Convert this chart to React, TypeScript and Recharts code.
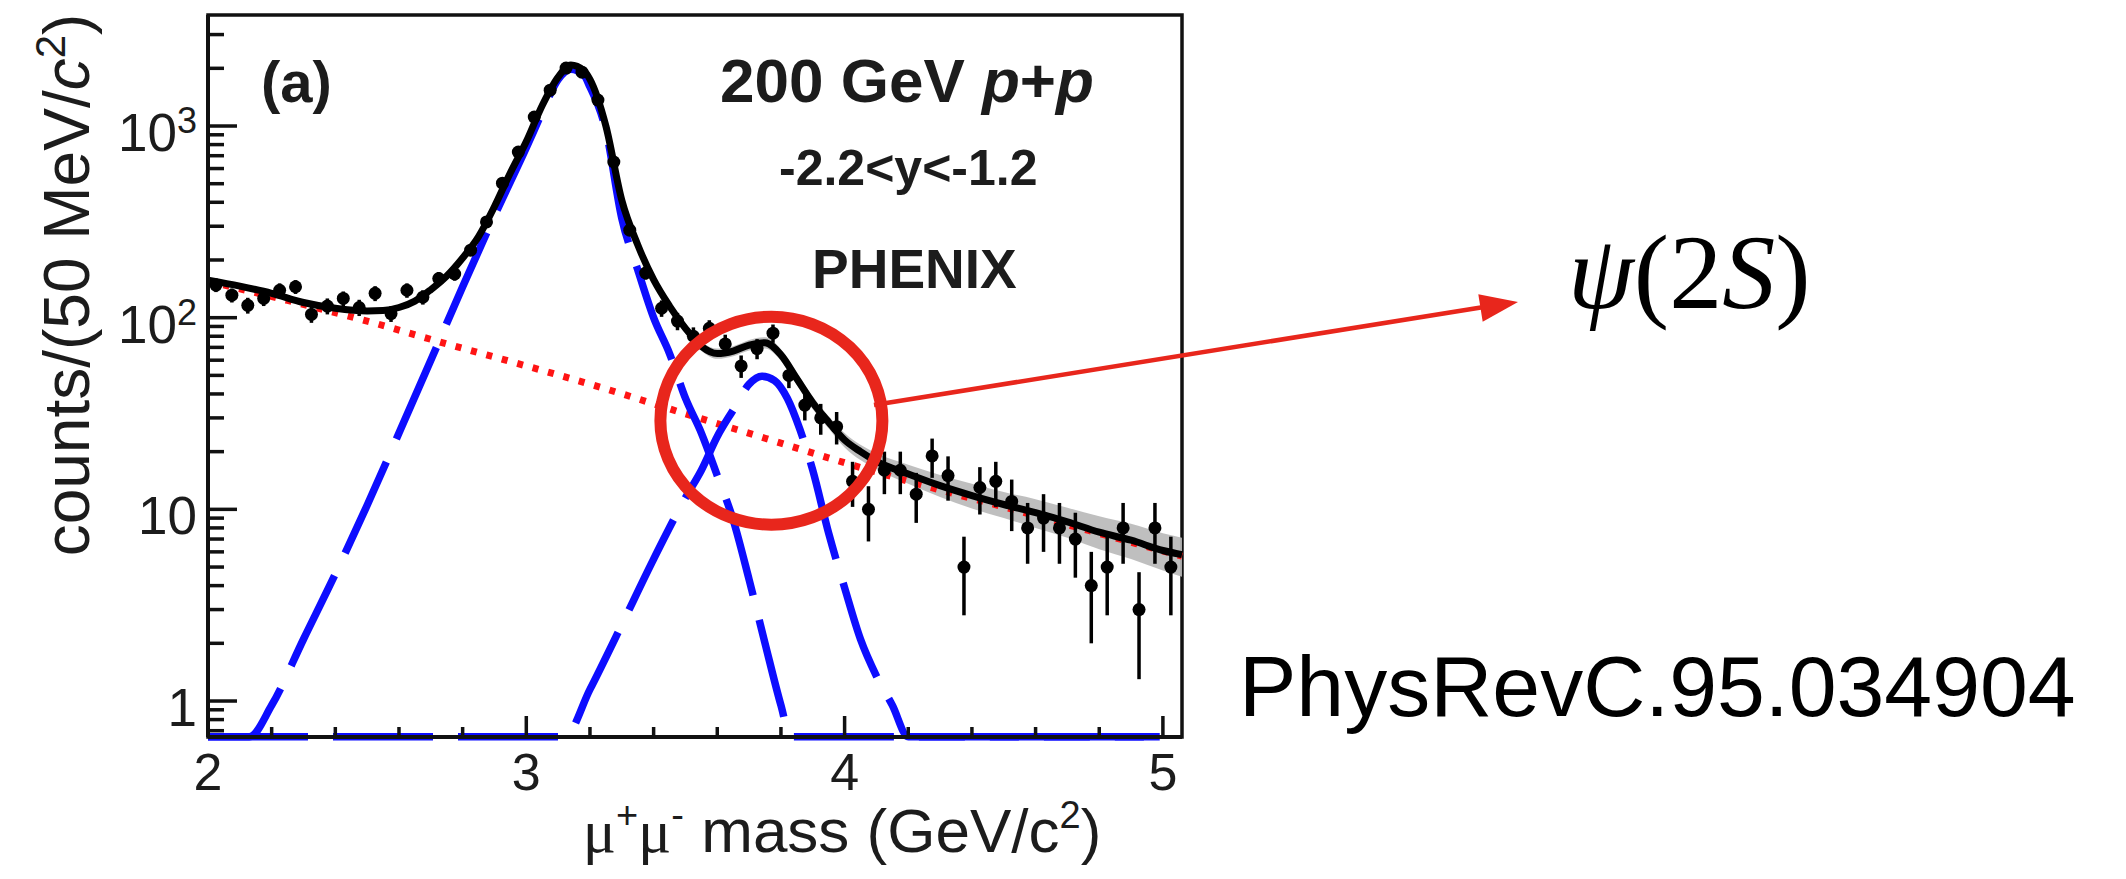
import React from 'react';
import { ComposedChart, Line, Area, Scatter, ErrorBar, XAxis, YAxis, ReferenceDot, ReferenceArea } from 'recharts';

const W = 2126;
const H = 879;
const SANS = '"Liberation Sans", Arial, Helvetica, sans-serif';
const SERIF = '"Liberation Serif", "Times New Roman", serif';
const INK = '#1c1c1c';

// measured dimuon mass bins (GeV/c^2), counts per 50 MeV and their errors
const binMass = [
  2.025, 2.075, 2.125, 2.175, 2.225, 2.275, 2.325, 2.375, 2.425, 2.475,
  2.525, 2.575, 2.625, 2.675, 2.725, 2.775, 2.825, 2.875, 2.925, 2.975,
  3.025, 3.075, 3.125, 3.175, 3.225, 3.275, 3.325, 3.375, 3.425, 3.475,
  3.525, 3.575, 3.625, 3.675, 3.725, 3.775, 3.825, 3.875, 3.925, 3.975,
  4.025, 4.075, 4.125, 4.175, 4.225, 4.275, 4.325, 4.375, 4.425, 4.475,
  4.525, 4.575, 4.625, 4.675, 4.725, 4.775, 4.825, 4.875, 4.925, 4.975, 5.025,
];
const binCounts = [
  148, 131, 116, 126, 139, 145, 104, 115, 126, 113,
  134, 105, 139, 128, 160, 169, 225, 316, 503, 731,
  1113, 1539, 2005, 1910, 1365, 649, 286, 171, 112, 96,
  80, 88, 73, 56, 69, 83, 50, 35, 30, 27,
  14, 10, 16, 16, 12, 19, 15, 5, 13, 14,
  11, 8, 9, 8, 7, 4, 5, 8, 3, 8, 5,
];
const binErrors = [
  12, 11, 11, 11, 12, 12, 10, 11, 11, 11,
  12, 10, 12, 11, 13, 13, 15, 18, 22, 27,
  33, 39, 45, 44, 37, 25, 17, 13, 11, 10,
  9, 9, 8.5, 7.5, 8.3, 9.1, 7.1, 5.9, 5.5, 5.2,
  3.7, 3.2, 4, 4, 3.5, 4.4, 3.9, 2.2, 3.6, 3.7,
  3.3, 2.8, 3, 2.8, 2.6, 2, 2.2, 2.8, 1.7, 2.8, 2.2,
];

// total fit (black)
const fitMass = [
  2.0, 2.1, 2.2, 2.3, 2.4, 2.5, 2.55, 2.6, 2.65, 2.7, 2.75, 2.8, 2.85, 2.9, 2.95,
  3.0, 3.05, 3.1, 3.14, 3.18, 3.2, 3.25, 3.3, 3.35, 3.4, 3.45, 3.5, 3.55, 3.6, 3.65,
  3.7, 3.75, 3.8, 3.85, 3.9, 3.95, 4.0, 4.05, 4.1, 4.2, 4.3, 4.4, 4.5, 4.6, 4.7,
  4.8, 4.9, 5.0, 5.06,
];
const fitTotal = [
  157, 146, 134, 120, 112, 108.5, 109, 113, 122, 140, 165, 205, 265, 380, 570,
  830, 1280, 1800, 2080, 1950, 1750, 1000, 410, 240, 158, 115, 88, 71, 65, 67,
  72, 74, 64, 48, 36, 28.5, 23, 20, 17.8, 15.3, 13.3, 11.8, 10.6, 9.6, 8.6,
  7.6, 6.9, 6.1, 5.8,
];

// fit uncertainty band (grey)
const bandMass = [
  3.4, 3.45, 3.5, 3.55, 3.6, 3.65, 3.7, 3.75, 3.8, 3.85, 3.9, 3.95, 4.0,
  4.1, 4.2, 4.3, 4.4, 4.5, 4.6, 4.7, 4.8, 4.9, 5.0, 5.06,
];
const bandLow = [
  150, 108, 82.5, 67, 61, 63, 67.5, 69, 59.5, 44.5, 33.3, 26.4, 21,
  16.2, 13.6, 11.6, 10.1, 9.0, 8.0, 7.1, 6.2, 5.5, 4.8, 4.45,
];
const bandHigh = [
  170, 122, 93.5, 75, 69, 71, 76.5, 79, 68.5, 51.5, 38.8, 30.6, 25,
  19.6, 17.1, 15.1, 13.6, 12.3, 11.3, 10.2, 9.2, 8.4, 7.5, 7.1,
];

// continuum background (red dotted)
const bgMass = [2.0, 2.25, 2.5, 2.75, 3.0, 3.25, 3.5, 3.75, 4.0, 4.25, 4.5, 4.75, 5.06];
const bgValues = [155, 123, 96, 73, 56, 42.5, 31.5, 23.5, 17.5, 13.3, 10.3, 7.9, 5.7];

// J/psi component (blue dashed), sits on the axis floor where below range
const jpsiMass = [
  2.0, 2.13, 2.2, 2.3, 2.4, 2.5, 2.6, 2.7, 2.8, 2.9, 3.0, 3.05, 3.1, 3.14, 3.18,
  3.2, 3.25, 3.3, 3.35, 3.4, 3.45, 3.5, 3.55, 3.6, 3.65, 3.7, 3.75, 3.8, 3.83, 4.99,
];
const jpsiValues = [
  0.65, 0.65, 0.95, 2.1, 4.6, 10.5, 25, 60, 145, 340, 770, 1180, 1750, 1980, 1850,
  1600, 950, 330, 178, 100, 65, 38, 25, 15, 8.8, 4.3, 2.0, 0.95, 0.65, 0.65,
];

// psi(2S) component (blue dashed)
const psiMass = [
  2.0, 3.12, 3.2, 3.3, 3.4, 3.5, 3.55, 3.6, 3.65, 3.7, 3.74, 3.78, 3.82, 3.86,
  3.9, 3.95, 4.0, 4.05, 4.1, 4.15, 4.2, 4.99,
];
const psiValues = [
  0.65, 0.65, 1.15, 2.5, 5.5, 11.5, 16, 24, 33, 45, 49.5, 47, 38, 26,
  16, 7.5, 3.9, 2.1, 1.35, 0.95, 0.65, 0.65,
];

const xTicks = [2, 2.2, 2.4, 2.6, 2.8, 3, 3.2, 3.4, 3.6, 3.8, 4, 4.2, 4.4, 4.6, 4.8, 5];
const yTicks = [
  0.7, 0.8, 0.9, 1, 2, 3, 4, 5, 6, 7, 8, 9, 10, 20, 30, 40, 50, 60, 70, 80, 90,
  100, 200, 300, 400, 500, 600, 700, 800, 900, 1000, 2000, 3000,
];
const yDecades = [1, 10, 100, 1000];

const points = binMass.map((x, i) => ({ x, y: binCounts[i], err: binErrors[i] }));
const fitData = fitMass.map((x, i) => ({ x, y: fitTotal[i] }));
const bandData = bandMass.map((x, i) => ({ x, y: [bandLow[i], bandHigh[i]] }));
const bgData = bgMass.map((x, i) => ({ x, y: bgValues[i] }));
const jpsiData = jpsiMass.map((x, i) => ({ x, y: jpsiValues[i] }));
const psiData = psiMass.map((x, i) => ({ x, y: psiValues[i] }));

const YTick = (props: any) => {
  const { x, y, payload } = props;
  const v = payload.value;
  const major = yDecades.includes(v);
  let label: React.ReactNode = null;
  if (v === 1 || v === 10) {
    label = String(v);
  } else if (v === 100 || v === 1000) {
    label = (
      <>
        10
        <tspan fontSize={36} dy={-18}>
          {v === 100 ? '2' : '3'}
        </tspan>
      </>
    );
  }
  return (
    <g>
      <line x1={x} x2={x + (major ? 29 : 16)} y1={y} y2={y} stroke="#111" strokeWidth={3.5} />
      {label !== null && (
        <text x={x - 11} y={y + 25} textAnchor="end" fontSize={53} fontFamily={SANS} fill={INK}>
          {label}
        </text>
      )}
    </g>
  );
};

const XTick = (props: any) => {
  const { x, y, payload } = props;
  const v = payload.value;
  const major = Number.isInteger(v);
  return (
    <g>
      <line x1={x} x2={x} y1={y} y2={y - (major ? 21 : 10)} stroke="#111" strokeWidth={3.5} />
      {major && (
        <text x={x} y={y + 53} textAnchor="middle" fontSize={52} fontFamily={SANS} fill={INK}>
          {v}
        </text>
      )}
    </g>
  );
};

const Marker = (props: any) => <circle cx={props.cx} cy={props.cy} r={6.5} fill="#000" />;

const Ring = (props: any) => (
  <ellipse cx={props.cx} cy={props.cy} rx={111} ry={104} fill="none" stroke="#e8261c" strokeWidth={12} />
);

export default function App() {
  return (
    <div style={{ position: 'fixed', left: 0, top: 0, width: W, height: H, background: '#fff' }}>
      <ComposedChart width={W} height={H} margin={{ top: 15, right: 944, bottom: 0, left: 0 }}>
        <XAxis
          dataKey="x"
          type="number"
          domain={[2, 5.06]}
          ticks={xTicks}
          interval={0}
          height={142}
          tickSize={0}
          tickMargin={0}
          tick={<XTick />}
          axisLine={{ stroke: '#111', strokeWidth: 4 }}
        />
        <YAxis
          type="number"
          scale="log"
          domain={[0.649, 3795]}
          ticks={yTicks}
          interval={0}
          width={208}
          tickSize={0}
          tickMargin={0}
          tick={<YTick />}
          axisLine={{ stroke: '#111', strokeWidth: 4 }}
        />
        <ReferenceArea
          x1={2}
          x2={5.06}
          y1={0.649}
          y2={3795}
          fill="none"
          fillOpacity={0}
          stroke="#111"
          strokeWidth={3.5}
        />
        <Area
          data={bandData}
          dataKey="y"
          type="monotone"
          fill="#b8b8b8"
          fillOpacity={0.9}
          stroke="none"
          isAnimationActive={false}
        />
        <Line
          data={bgData}
          dataKey="y"
          type="monotone"
          stroke="#ff1414"
          strokeWidth={7}
          strokeDasharray="6 10"
          dot={false}
          activeDot={false}
          isAnimationActive={false}
        />
        <Line
          data={jpsiData}
          dataKey="y"
          type="monotone"
          stroke="#0d0dff"
          strokeWidth={7.5}
          strokeDasharray="100 25"
          dot={false}
          activeDot={false}
          isAnimationActive={false}
        />
        <Line
          data={psiData}
          dataKey="y"
          type="monotone"
          stroke="#0d0dff"
          strokeWidth={7.5}
          strokeDasharray="100 25"
          dot={false}
          activeDot={false}
          isAnimationActive={false}
        />
        <Line
          data={fitData}
          dataKey="y"
          type="monotone"
          stroke="#000"
          strokeWidth={7}
          dot={false}
          activeDot={false}
          isAnimationActive={false}
        />
        <Scatter data={points} dataKey="y" fill="#000" shape={<Marker />} isAnimationActive={false}>
          <ErrorBar dataKey="err" direction="y" width={0} stroke="#000" strokeWidth={3.5} />
        </Scatter>
        <ReferenceDot x={3.77} y={29} r={1} shape={<Ring />} />
      </ComposedChart>

      <svg
        width={W}
        height={H}
        style={{ position: 'absolute', left: 0, top: 0, pointerEvents: 'none' }}
      >
        <text
          x={89}
          y={285}
          transform="rotate(-90, 89, 285)"
          textAnchor="middle"
          fontSize={64}
          fontFamily={SANS}
          fill={INK}
        >
          counts/(50 MeV/<tspan fontStyle="italic">c</tspan>
          <tspan fontSize={42} dy={-24}>2</tspan>
          <tspan dy={24}>)</tspan>
        </text>
        <text x={842} y={852} textAnchor="middle" fontSize={62} fontFamily={SANS} fill={INK}>
          <tspan fontFamily={SERIF}>μ</tspan>
          <tspan fontSize={38} dy={-24}>+</tspan>
          <tspan fontFamily={SERIF} dy={24}>μ</tspan>
          <tspan fontSize={38} dy={-24}>-</tspan>
          <tspan dy={24}> mass (GeV/c</tspan>
          <tspan fontSize={38} dy={-24}>2</tspan>
          <tspan dy={24}>)</tspan>
        </text>
        <text x={261} y={102} fontSize={58} fontWeight="bold" fontFamily={SANS} fill={INK}>
          (a)
        </text>
        <text x={720} y={102} fontSize={62} fontWeight="bold" fontFamily={SANS} fill={INK}>
          200 GeV <tspan fontStyle="italic">p</tspan>+<tspan fontStyle="italic">p</tspan>
        </text>
        <text x={779} y={185} fontSize={50} fontWeight="bold" fontFamily={SANS} fill={INK}>
          -2.2&lt;y&lt;-1.2
        </text>
        <text x={812} y={288} fontSize={55} fontWeight="bold" fontFamily={SANS} fill={INK}>
          PHENIX
        </text>
        <line x1={874} y1={405} x2={1484} y2={307} stroke="#e8261c" strokeWidth={4.5} />
        <polygon points="1518,302 1482.7,321.8 1478.3,294.2" fill="#e8261c" />
        <text x={1568} y={308} fontSize={106} fontFamily={SERIF} fill="#000">
          <tspan fontStyle="italic">ψ</tspan>(2<tspan fontStyle="italic">S</tspan>)
        </text>
        <text x={1239} y={716} fontSize={86} fontFamily={SANS} fill="#000">
          PhysRevC.95.034904
        </text>
      </svg>
    </div>
  );
}
